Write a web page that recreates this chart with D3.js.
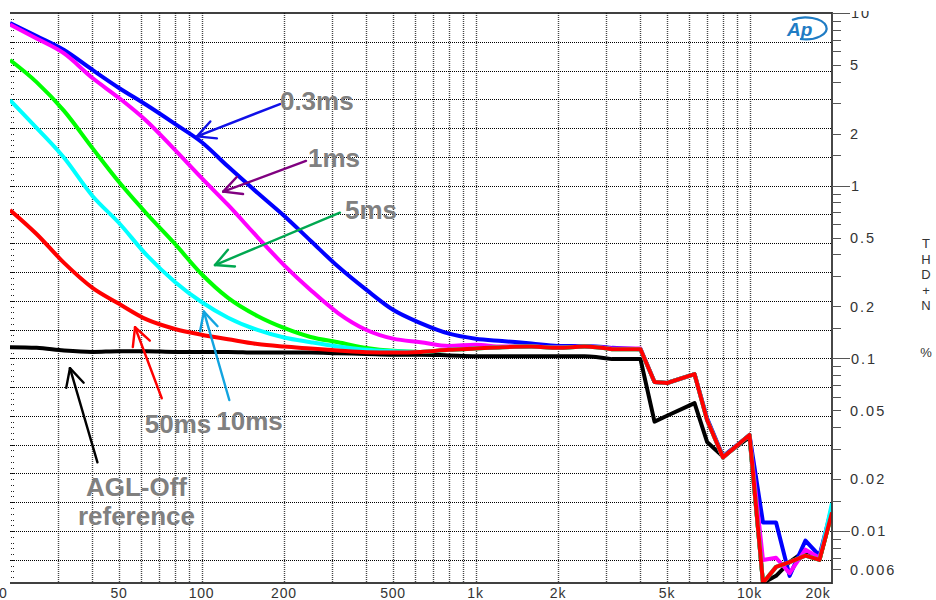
<!DOCTYPE html>
<html>
<head>
<meta charset="utf-8">
<script src="https://cdn.jsdelivr.net/npm/d3@7/dist/d3.min.js"></script>
<style>
  body { margin: 0; background: #fff; }
  svg { display: block; font-family: "Liberation Sans", Arial, sans-serif; }
</style>
</head>
<body>
<div id="chart"></div>
<script>

var width = 936,
  height = 600;

// sweep frequencies (Hz)
var freqs = [20, 25, 31.5, 40, 50, 63, 80, 100, 125, 160,
  200, 250, 315, 400, 500, 630, 800, 1000, 1250, 1600,
  2000, 2500, 3150, 4000, 4500, 5000, 6300, 7000, 8000, 10000,
  11200, 12500, 14000, 16000, 18000, 20000];

// THD+N (%) per release time
var agl_off = [0.116, 0.115, 0.111, 0.109, 0.110, 0.110, 0.109, 0.109, 0.109, 0.108,
  0.108, 0.108, 0.107, 0.106, 0.105, 0.105, 0.104, 0.103, 0.103, 0.103,
  0.103, 0.103, 0.099, 0.099, 0.043, 0.0465, 0.055, 0.0328, 0.027, 0.035,
  0.005, 0.0055, 0.0066, 0.0077, 0.0068, 0.0128];
var ms_03 = [8.75, 7.35, 6.1, 4.68, 3.68, 2.93, 2.28, 1.79, 1.29, 0.91,
  0.67, 0.48, 0.34, 0.249, 0.191, 0.16, 0.139, 0.130, 0.126, 0.122,
  0.118, 0.118, 0.115, 0.113, 0.073, 0.072, 0.081, 0.045, 0.0271, 0.036,
  0.0112, 0.0112, 0.0055, 0.0088, 0.0072, 0.0138];
var ms_1 = [8.58, 7.12, 5.83, 4.2, 3.22, 2.37, 1.61, 1.108, 0.773, 0.504,
  0.347, 0.249, 0.183, 0.146, 0.130, 0.124, 0.118, 0.120, 0.117, 0.117,
  0.116, 0.117, 0.114, 0.114, 0.073, 0.072, 0.081, 0.044, 0.0267, 0.036,
  0.0068, 0.0070, 0.0057, 0.0078, 0.0070, 0.013];
var ms_5 = [5.34, 3.98, 2.71, 1.65, 1.05, 0.69, 0.46, 0.308, 0.224, 0.176,
  0.150, 0.133, 0.124, 0.115, 0.1105, 0.109, 0.112, 0.114, 0.116, 0.117,
  0.115, 0.117, 0.113, 0.113, 0.073, 0.072, 0.081, 0.044, 0.0267, 0.036,
  0.005, 0.0062, 0.0066, 0.0072, 0.0068, 0.0128];
var ms_10 = [3.13, 2.16, 1.45, 0.872, 0.608, 0.397, 0.277, 0.212, 0.172, 0.146,
  0.132, 0.124, 0.117, 0.112, 0.110, 0.109, 0.112, 0.114, 0.116, 0.117,
  0.115, 0.117, 0.113, 0.113, 0.073, 0.072, 0.081, 0.044, 0.0267, 0.036,
  0.005, 0.0062, 0.0066, 0.0072, 0.0068, 0.0145];
var ms_50 = [0.723, 0.525, 0.357, 0.256, 0.207, 0.168, 0.148, 0.137, 0.129, 0.121,
  0.117, 0.114, 0.111, 0.1085, 0.108, 0.109, 0.112, 0.114, 0.116, 0.117,
  0.115, 0.117, 0.113, 0.113, 0.073, 0.072, 0.081, 0.044, 0.0267, 0.036,
  0.005, 0.0062, 0.0066, 0.0072, 0.0068, 0.0128];

// draw order: last one ends on top
var series = [
  { name: "AGL-Off", values: agl_off, color: "#000000" },
  { name: "0.3ms", values: ms_03, color: "#0000ff" },
  { name: "1ms", values: ms_1, color: "#ff00ff" },
  { name: "5ms", values: ms_5, color: "#00ff00" },
  { name: "10ms", values: ms_10, color: "#00ffff" },
  { name: "50ms", values: ms_50, color: "#ff0000" }
];

var xTickLabels = [20, 50, 100, 200, 500, 1000, 2000, 5000, 10000, 20000];
var yTickLabels = [10, 5, 2, 1, 0.5, 0.2, 0.1, 0.05, 0.02, 0.01, 0.006];

// callouts: tail/tip in [Hz, %]
var callouts = [
  { text: ["0.3ms"], tail: [193.3, 2.97], tip: [96.3, 1.93], color: "#1010e8", dx: 0, dy: 6, anchor: "start" },
  { text: ["1ms"], tail: [240.6, 1.39], tip: [120, 0.923], color: "#800080", dx: 2, dy: 6, anchor: "start" },
  { text: ["5ms"], tail: [320, 0.698], tip: [112, 0.347], color: "#00a850", dx: 5, dy: 6, anchor: "start" },
  { text: ["50ms"], tail: [71.6, 0.0587], tip: [57.2, 0.1514], color: "#ff0000", dx: -17, dy: 35, anchor: "start" },
  { text: ["10ms"], tail: [126.3, 0.0574], tip: [102, 0.1865], color: "#12a4e0", dx: -13, dy: 30, anchor: "start" },
  { text: ["AGL-Off", "reference"], tail: [41.7, 0.025], tip: [33.1, 0.0877], color: "#000000", dx: 39, dy: 34, anchor: "middle" }
];

var x = d3.scaleLog().domain([20, 20000]).range([10, 832]);
var y = d3.scaleLog().domain([0.005, 10]).range([583, 13]);

var svg = d3.select("#chart")
  .append("svg")
  .attr("width", width)
  .attr("height", height);

svg.append("defs").append("clipPath")
  .attr("id", "plot-clip")
  .append("rect")
  .attr("x", x.range()[0])
  .attr("y", y.range()[1])
  .attr("width", x.range()[1] - x.range()[0])
  .attr("height", y.range()[0] - y.range()[1]);

// grid
var hGrid = d3.range(1, 20).map(function (k) { return Math.pow(10, 1 - k / 6); });
var vGrid = [];
[10, 100, 1000].forEach(function (dec) {
  d3.range(1, 10).forEach(function (m) {
    var f = m * dec;
    if (f > 20 && f < 20000 && !(dec === 10 && m < 3)) vGrid.push(f);
  });
});
vGrid.push(10000);

var grid = svg.append("g").attr("class", "grid");
grid.selectAll("line.v")
  .data(vGrid)
  .enter().append("line")
  .attr("class", "v")
  .attr("x1", function (d) { return Math.round(x(d)) + 0.5; })
  .attr("x2", function (d) { return Math.round(x(d)) + 0.5; })
  .attr("y1", y.range()[1])
  .attr("y2", y.range()[0])
  .attr("stroke", "#444")
  .attr("stroke-width", 1.4)
  .attr("stroke-dasharray", "1,1");
grid.selectAll("line.h")
  .data(hGrid)
  .enter().append("line")
  .attr("class", "h")
  .attr("x1", x.range()[0])
  .attr("x2", x.range()[1])
  .attr("y1", function (d) { return Math.round(y(d)) + 0.5; })
  .attr("y2", function (d) { return Math.round(y(d)) + 0.5; })
  .attr("stroke", "#000")
  .attr("stroke-width", 1)
  .attr("stroke-dasharray", "1,1");

// little dotted ticks down the left edge
var leftTicks = d3.range(1, 100).map(function (k) { return Math.pow(10, 1 - k / 30); })
  .filter(function (d) { return d > 0.0051; });
grid.selectAll("line.lt")
  .data(leftTicks)
  .enter().append("line")
  .attr("class", "lt")
  .attr("x1", x.range()[0] + 1)
  .attr("x2", x.range()[0] + 5)
  .attr("y1", function (d) { return Math.round(y(d)) + 0.5; })
  .attr("y2", function (d) { return Math.round(y(d)) + 0.5; })
  .attr("stroke", "#222")
  .attr("stroke-dasharray", "1,1");

// traces: smooth below 3.15k, straight segments above (sharp corners there)
var splitAt = freqs.indexOf(3150);
var smoothLine = d3.line()
  .curve(d3.curveMonotoneX)
  .x(function (d) { return x(d[0]); })
  .y(function (d) { return y(d[1]); });
var straightLine = d3.line()
  .x(function (d) { return x(d[0]); })
  .y(function (d) { return y(d[1]); });

var traces = svg.append("g")
  .attr("clip-path", "url(#plot-clip)")
  .selectAll("path")
  .data(series)
  .enter().append("path")
  .attr("d", function (s) {
    var pts = freqs.map(function (f, i) { return [f, s.values[i]]; });
    var a = smoothLine(pts.slice(0, splitAt + 1));
    var b = straightLine(pts.slice(splitAt));
    return a + "L" + b.slice(1);
  })
  .attr("fill", "none")
  .attr("stroke", function (s) { return s.color; })
  .attr("stroke-width", 4)
  .attr("stroke-linejoin", "round");

// frame
var frame = svg.append("g");
frame.append("line")
  .attr("x1", x.range()[0]).attr("x2", x.range()[1])
  .attr("y1", y.range()[1]).attr("y2", y.range()[1])
  .attr("stroke", "#000").attr("stroke-width", 1.6);
frame.append("line")
  .attr("x1", x.range()[0]).attr("x2", x.range()[1])
  .attr("y1", y.range()[0]).attr("y2", y.range()[0])
  .attr("stroke", "#000").attr("stroke-width", 1.6);

// right axis
var rTicks = [];
[0.001, 0.01, 0.1, 1].forEach(function (dec) {
  [1, 1.5, 2, 3, 4, 5, 6, 7, 8, 9].forEach(function (m) {
    var v = +(m * dec).toPrecision(3);
    if (v > 0.0051 && v < 10) rTicks.push(v);
  });
});
rTicks.push(10);
var isMajor = function (d) { return [10, 1, 0.1, 0.01].indexOf(d) >= 0; };

var yAxis = svg.append("g").attr("class", "y-axis");
yAxis.append("line")
  .attr("x1", x.range()[1]).attr("x2", x.range()[1])
  .attr("y1", y.range()[1] - 1).attr("y2", y.range()[0] + 1)
  .attr("stroke", "#333").attr("stroke-width", 1.8);
yAxis.selectAll("line.tick")
  .data(rTicks)
  .enter().append("line")
  .attr("class", "tick")
  .attr("x1", x.range()[1])
  .attr("x2", function (d) { return x.range()[1] + (isMajor(d) ? 18 : 9); })
  .attr("y1", function (d) { return Math.round(y(d)) + 0.5; })
  .attr("y2", function (d) { return Math.round(y(d)) + 0.5; })
  .attr("stroke", "#555")
  .attr("stroke-width", 1);
yAxis.selectAll("text")
  .data(yTickLabels)
  .enter().append("text")
  .attr("x", function (d) { return x.range()[1] + (isMajor(d) ? 19 : 18); })
  .attr("y", function (d) { return y(d); })
  .attr("dy", "0.36em")
  .attr("font-size", 14.5)
  .attr("letter-spacing", 2)
  .attr("fill", "#333")
  .text(function (d) { return d; });

// top of the "10" label is cut off in the original screenshot
svg.append("rect")
  .attr("x", 836).attr("y", 0)
  .attr("width", 60).attr("height", 11)
  .attr("fill", "#fff");

// y title, stacked letters
var yTitle = ["T", "H", "D", "+", "N"];
svg.append("g").selectAll("text")
  .data(yTitle)
  .enter().append("text")
  .attr("x", 926)
  .attr("y", function (d, i) { return 248 + i * 15.5; })
  .attr("text-anchor", "middle")
  .attr("font-size", 13)
  .attr("fill", "#333")
  .text(function (d) { return d; });
svg.append("text")
  .attr("x", 926).attr("y", 357)
  .attr("text-anchor", "middle")
  .attr("font-size", 13)
  .attr("fill", "#333")
  .text("%");

// x labels
var fmtHz = function (d) { return d >= 1000 ? (d / 1000) + "k" : d; };
svg.append("g").selectAll("text")
  .data(xTickLabels)
  .enter().append("text")
  .attr("x", function (d) {
    if (d === 20) return x(d) - 11;
    if (d === 20000) return x(d) - 14;
    return x(d);
  })
  .attr("y", 598)
  .attr("text-anchor", "middle")
  .attr("font-size", 14)
  .attr("letter-spacing", 0.8)
  .attr("fill", "#333")
  .text(fmtHz);

// Ap logo
var logo = svg.append("g").attr("transform", "translate(806,29)");
logo.append("path")
  .attr("d", "M -14,-9 A 21,11 0 1 1 -6,10")
  .attr("fill", "none")
  .attr("stroke", "#1f7cc4")
  .attr("stroke-width", 2.2);
logo.append("text")
  .attr("x", -19).attr("y", 7)
  .attr("font-size", 19)
  .attr("font-weight", "bold")
  .attr("font-style", "italic")
  .attr("fill", "#1f7cc4")
  .text("Ap");

// callouts
var note = svg.append("g").attr("class", "callouts");
callouts.forEach(function (c) {
  var x1 = x(c.tail[0]), y1 = y(c.tail[1]);
  var x2 = x(c.tip[0]), y2 = y(c.tip[1]);
  var ang = Math.atan2(y1 - y2, x1 - x2);
  var len = 20, spread = 27 * Math.PI / 180;
  var g = note.append("g")
    .attr("stroke", c.color)
    .attr("stroke-width", 2.4)
    .attr("stroke-linecap", "round")
    .attr("fill", "none");
  g.append("line").attr("x1", x1).attr("y1", y1).attr("x2", x2).attr("y2", y2);
  [-spread, spread].forEach(function (s) {
    g.append("line")
      .attr("x1", x2).attr("y1", y2)
      .attr("x2", x2 + len * Math.cos(ang + s))
      .attr("y2", y2 + len * Math.sin(ang + s));
  });
  c.text.forEach(function (t, i) {
    note.append("text")
      .attr("x", x1 + c.dx)
      .attr("y", y1 + c.dy + i * 29)
      .attr("text-anchor", c.anchor)
      .attr("font-size", 26)
      .attr("font-weight", "bold")
      .attr("fill", "#808080")
      .text(t);
  });
});

</script>
</body>
</html>
